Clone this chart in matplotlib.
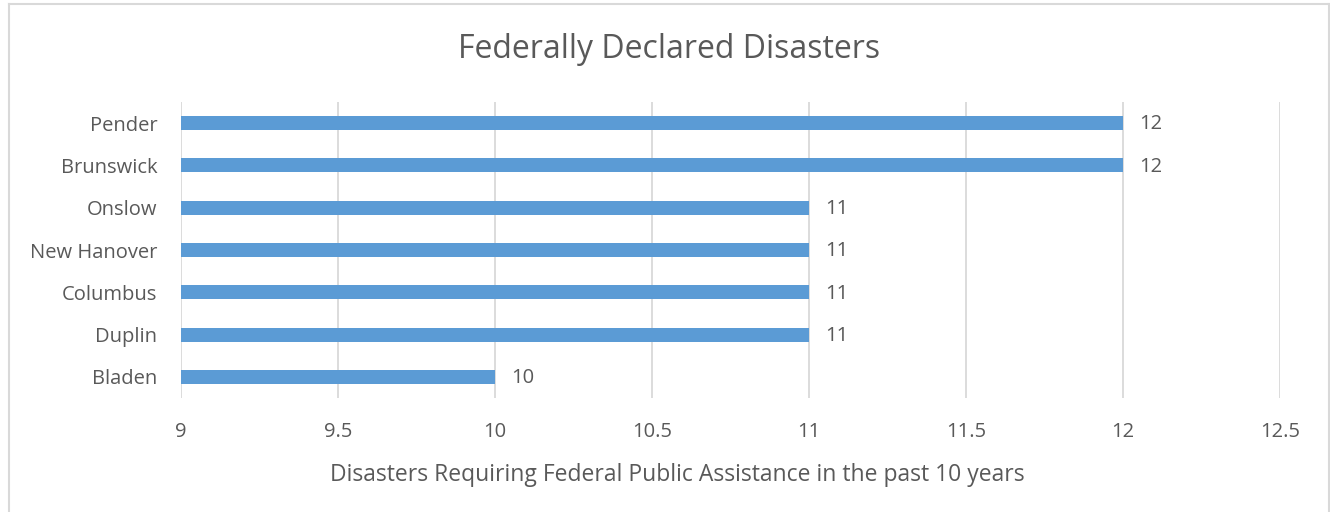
import matplotlib.pyplot as plt
from matplotlib.lines import Line2D

counties = ["Bladen", "Duplin", "Columbus", "New Hanover", "Onslow", "Brunswick", "Pender"]
disasters = [10, 11, 11, 11, 11, 12, 12]
x_ticks = [9, 9.5, 10, 10.5, 11, 11.5, 12, 12.5]
x_tick_labels = ["9", "9.5", "10", "10.5", "11", "11.5", "12", "12.5"]

text_color = "#595959"
bar_color = "#5B9BD5"
grid_color = "#D9D9D9"

plt.rcParams["font.family"] = ["Open Sans", "DejaVu Sans"]

W, H = 1330, 512
fig = plt.figure(figsize=(13.3, 5.12), dpi=100)
ax = fig.add_axes([181 / W, 1 - 398 / H, 1099 / W, 296 / H])

# chart border (top, left, right; bottom edge is cut off)
xl, xr, yt = 8.5 / W, 1328.5 / W, 1 - 4 / H
for xs, ys in [([xl, xr], [yt, yt]), ([xl, xl], [0, yt]), ([xr, xr], [0, yt])]:
    fig.add_artist(Line2D(xs, ys, transform=fig.transFigure, color=grid_color, linewidth=1.5))

y = range(len(counties))
ax.barh(y, [d - 9 for d in disasters], left=9, height=0.33, color=bar_color, zorder=2)
for yi, d in zip(y, disasters):
    ax.text(d + 0.05, yi - 0.03, str(d), va="center", ha="left", fontsize=14.5, color=text_color)

ax.set_xlim(9, 12.5)
ax.set_ylim(-0.5, len(counties) - 0.5)
ax.set_xticks(x_ticks)
ax.set_xticklabels(x_tick_labels)
ax.set_yticks(list(y))
ax.set_yticklabels(counties)
ax.tick_params(axis="both", length=0, labelsize=14.5, colors=text_color)
ax.tick_params(axis="x", pad=17)
ax.tick_params(axis="y", pad=17)
ax.xaxis.grid(True, color=grid_color, linewidth=1.3, zorder=0)
ax.set_axisbelow(True)
for s in ax.spines.values():
    s.set_visible(False)

ax.set_xlabel("Disasters Requiring Federal Public Assistance in the past 10 years",
              fontsize=16.5, color=text_color, labelpad=17)
ax.xaxis.set_label_coords((677 - 181) / 1099, -(475 - 398) / 296)
ax.xaxis.label.set_va("center")
fig.text(669 / W, 1 - 50 / H, "Federally Declared Disasters", ha="center", va="center",
         fontsize=23, color=text_color)

fig.savefig("out.png", dpi=100)
